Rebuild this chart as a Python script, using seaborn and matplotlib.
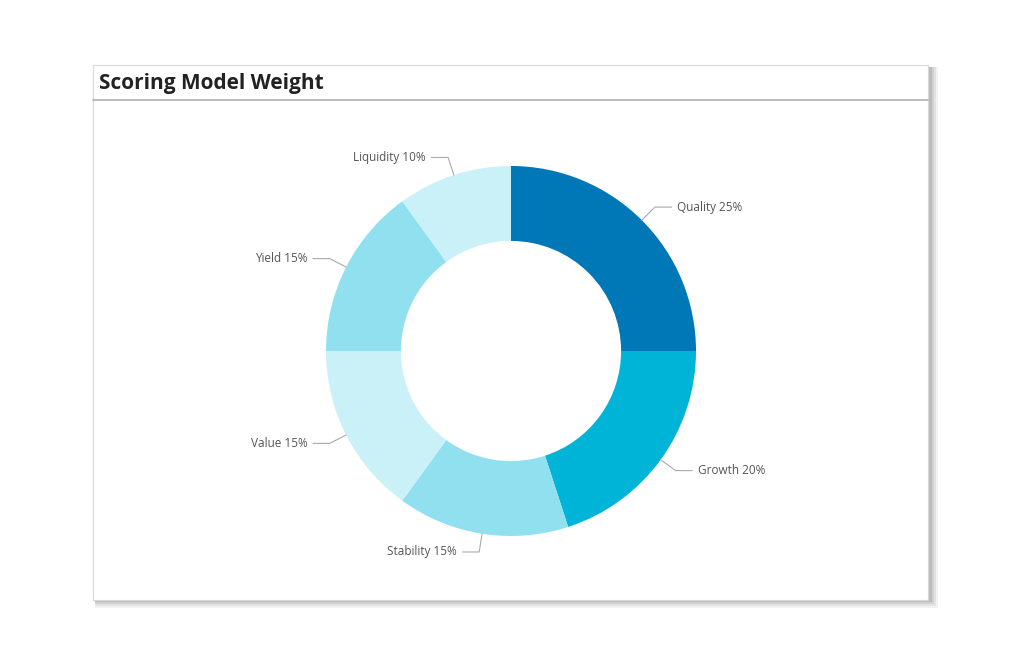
import numpy as np
import seaborn as sns
import matplotlib.pyplot as plt
from matplotlib.patches import Rectangle

categories = ['Quality', 'Growth', 'Stability', 'Value', 'Yield', 'Liquidity']
weights = [25, 20, 15, 15, 15, 10]
colors = ['#0077b6', '#00b4d8', '#90e0ef', '#caf0f8', '#90e0ef', '#caf0f8']

sns.set_theme(style="white")
plt.rcParams['font.family'] = ['Open Sans', 'DejaVu Sans']

W, H = 1015, 667
fig = plt.figure(figsize=(W / 100, H / 100), dpi=100)
fig.patch.set_facecolor('white')

# panel with soft shadow
px0, py0, px1, py1 = 93, 65, 928, 600
for i, a in enumerate([0.05, 0.06, 0.08, 0.1]):
    off = 8 - i * 2
    fig.patches.append(Rectangle(((px0 + 2) / W, (H - py1 - off) / H),
                                 (px1 - px0 + off) / W, (py1 - py0 + off - 2) / H,
                                 transform=fig.transFigure, facecolor='black',
                                 alpha=a, edgecolor='none', zorder=0))
fig.patches.append(Rectangle((px0 / W, (H - py1) / H), (px1 - px0) / W, (py1 - py0) / H,
                             transform=fig.transFigure, facecolor='white',
                             edgecolor='#d8d8d8', lw=0.8, zorder=1))
fig.lines.append(plt.Line2D([px0 / W, px1 / W], [(H - 100) / H] * 2,
                            transform=fig.transFigure, color='#b0b0b0', lw=1.2, zorder=2))
fig.text(99 / W, (H - 83) / H, 'Scoring Model Weight', fontsize=15, fontweight='bold',
         color='#222222', va='center', ha='left', zorder=3)

cx, cy, r = 511, H - 351, 185
ax = fig.add_axes([(cx - r) / W, (cy - r) / H, 2 * r / W, 2 * r / H])
ax.set_zorder(3)
wedges, _ = ax.pie(weights, colors=colors, startangle=90, counterclock=False,
                   radius=1, wedgeprops=dict(width=0.405, edgecolor='none'))
ax.set_xlim(-1, 1)
ax.set_ylim(-1, 1)
ax.set_aspect('equal')
ax.axis('off')

for w, cat, val in zip(wedges, categories, weights):
    ang = np.deg2rad((w.theta1 + w.theta2) / 2)
    x, y = np.cos(ang), np.sin(ang)
    ex, ey = 1.1 * x, 1.1 * y
    sgn = 1 if x >= 0 else -1
    tx = ex + sgn * 0.09
    ax.plot([x, ex, tx], [y, ey, ey], color='#aaaaaa', lw=0.8, clip_on=False)
    ax.text(tx + sgn * 0.03, ey, f'{cat} {val}%', fontsize=8.5, color='#555555',
            ha='left' if sgn > 0 else 'right', va='center', clip_on=False)

fig.savefig('out.png', dpi=100)
